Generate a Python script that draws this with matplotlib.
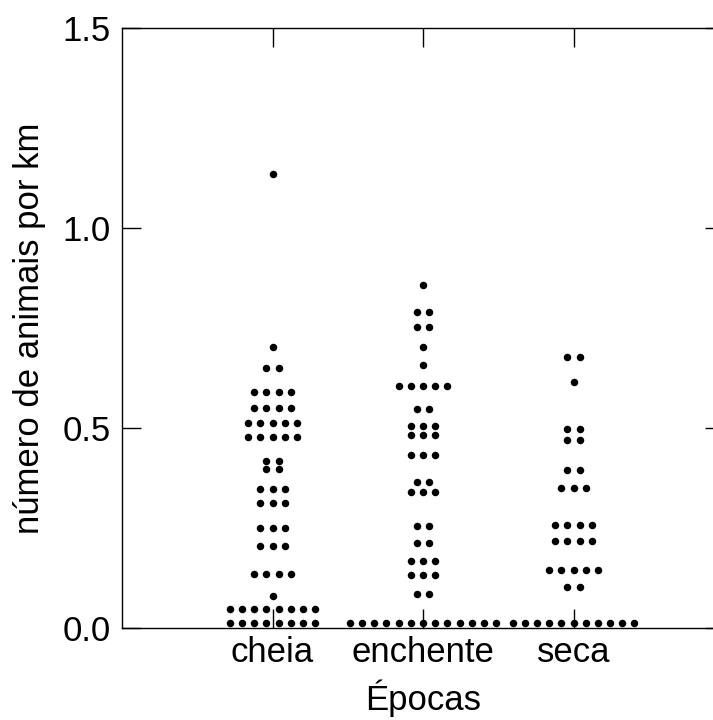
import numpy as np
import matplotlib
matplotlib.use("Agg")
import matplotlib.pyplot as plt

plt.rcParams['font.family'] = ['Liberation Sans', 'DejaVu Sans']

categories = ["cheia", "enchente", "seca"]

cheia_levels = [1.135, 0.702, 0.651, 0.589, 0.551, 0.513, 0.478, 0.418, 0.397,
                0.347, 0.312, 0.250, 0.205, 0.135, 0.081, 0.048, 0.012]
cheia_counts = [1, 1, 2, 4, 4, 5, 5, 2, 2, 3, 3, 3, 3, 4, 1, 8, 8]

enchente_levels = [0.858, 0.789, 0.752, 0.702, 0.658, 0.605, 0.548, 0.506, 0.482,
                   0.433, 0.364, 0.339, 0.255, 0.213, 0.168, 0.133, 0.085, 0.013]
enchente_counts = [1, 2, 2, 1, 1, 5, 2, 3, 3, 3, 2, 3, 2, 2, 3, 3, 2, 13]

seca_levels = [0.678, 0.615, 0.498, 0.469, 0.396, 0.351, 0.257, 0.218, 0.146, 0.103, 0.013]
seca_counts = [2, 1, 2, 2, 2, 3, 4, 4, 5, 2, 11]

yticks = [0.0, 0.5, 1.0, 1.5]
ytick_labels = ["0.0", "0.5", "1.0", "1.5"]

groups = [(cheia_levels, cheia_counts), (enchente_levels, enchente_counts),
          (seca_levels, seca_counts)]

fig = plt.figure(figsize=(7.13, 7.2), dpi=100)
ax = fig.add_axes([122 / 713, 1 - 628 / 720, 602 / 713, 600 / 720])

spacing = 0.081
for i, (levels, counts) in enumerate(groups):
    xc = i + 1
    xs, ys = [], []
    for v, n in zip(levels, counts):
        offs = (np.arange(n) - (n - 1) / 2) * spacing
        xs.extend(xc + offs)
        ys.extend([v] * n)
    ax.plot(xs, ys, 'o', color='black', markersize=5.4, markeredgewidth=0,
            clip_on=False, zorder=3)

ax.set_xlim(0, 4)
ax.set_ylim(0, 1.5)
ax.set_xticks([1, 2, 3])
ax.set_xticklabels(categories)
ax.set_yticks(yticks)
ax.set_yticklabels(ytick_labels)

ax.tick_params(axis='both', direction='in', length=13.5, width=1.0,
               labelsize=25, top=True, right=True, color='black')
ax.tick_params(axis='y', pad=8)
ax.tick_params(axis='x', pad=6)
for sp in ax.spines.values():
    sp.set_linewidth(1.0)

ax.set_xlabel("Épocas", fontsize=25, labelpad=7)
ax.set_ylabel("número de animais por km", fontsize=25, labelpad=12)

fig.savefig("out.png", dpi=100)
